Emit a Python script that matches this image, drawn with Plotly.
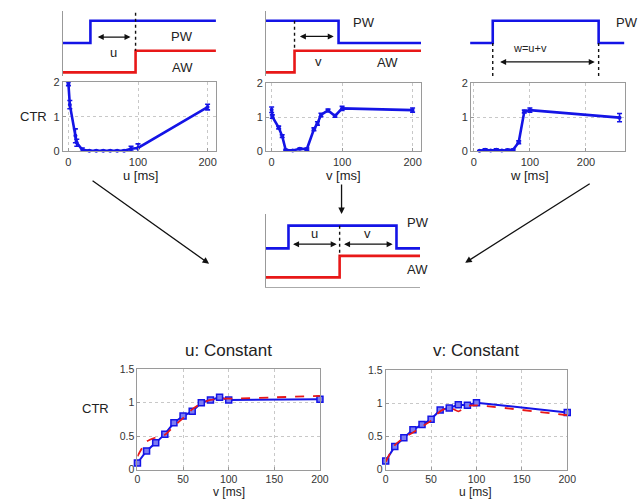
import plotly.graph_objects as go

W, H = 642, 504

# ---------------- data ----------------
# top-left: CTR vs u
u_ms = [0, 2, 10, 12, 20, 30, 40, 50, 60, 70, 80, 90, 100, 200]
ctr_u = [1.95, 1.35, 0.45, 0.25, 0.05, 0.02, 0.02, 0.02, 0.02, 0.02, 0.02, 0.08, 0.1, 1.28]
err_u = [0.05, 0.12, 0.2, 0.1, 0.05, 0.01, 0.01, 0.01, 0.01, 0.01, 0.01, 0.07, 0.12, 0.08]
# top-middle: CTR vs v
v_ms = [0, 1, 10, 15, 20, 30, 40, 50, 60, 65, 70, 80, 90, 100, 200]
ctr_v = [1.22, 1.02, 0.7, 0.45, 0.04, 0.03, 0.08, 0.07, 0.65, 0.82, 1.07, 1.2, 1.04, 1.26, 1.21]
err_v = [0.08, 0.05, 0.04, 0.04, 0.02, 0.02, 0.02, 0.03, 0.04, 0.05, 0.05, 0.04, 0.04, 0.06, 0.06]
# top-right: CTR vs w
w_ms = [10, 20, 30, 40, 50, 60, 70, 80, 90, 100, 260]
ctr_w = [0.02, 0.05, 0.03, 0.05, 0.03, 0.04, 0.05, 0.27, 1.17, 1.21, 0.99]
err_w = [0.01, 0.03, 0.01, 0.03, 0.01, 0.02, 0.02, 0.04, 0.04, 0.06, 0.12]
# bottom panels
ms_grid = [0, 10, 20, 30, 40, 50, 60, 70, 80, 90, 100, 200]
uconst_meas = [0.1, 0.28, 0.4, 0.53, 0.7, 0.8, 0.87, 1.0, 1.04, 1.08, 1.04, 1.05]
uconst_model = [0.2, 0.42, 0.48, 0.52, 0.65, 0.77, 0.9, 0.99, 1.04, 1.06, 1.06, 1.1]
vconst_meas = [0.13, 0.35, 0.48, 0.6, 0.68, 0.76, 0.9, 0.93, 0.98, 0.97, 1.01, 0.86]
vconst_model = [0.12, 0.37, 0.48, 0.56, 0.65, 0.74, 0.88, 0.94, 0.88, 0.96, 0.97, 0.82]

# schematic waveforms (schematic time units 0-100, level units 0-10)
s1_pw_t = [0, 18, 18, 100]; s1_pw_y = [5.1, 5.1, 8.5, 8.5]
s1_aw_t = [0, 47.5, 47.5, 100]; s1_aw_y = [0.6, 0.6, 3.9, 3.9]
s2_pw_t = [0, 46.8, 46.8, 100]; s2_pw_y = [8.5, 8.5, 5.1, 5.1]
s2_aw_t = [0, 18.4, 18.4, 100]; s2_aw_y = [0.6, 0.6, 3.9, 3.9]
s3_pw_t = [0, 13.9, 13.9, 78.9, 78.9, 94.6]; s3_pw_y = [5.1, 5.1, 8.5, 8.5, 5.1, 5.1]
s4_pw_t = [0, 14.6, 14.6, 84.7, 84.7, 100]; s4_pw_y = [5.3, 5.3, 8.4, 8.4, 5.3, 5.3]
s4_aw_t = [0, 47.8, 47.8, 100]; s4_aw_y = [1.33, 1.33, 4.27, 4.27]

BLUE = "#1414e6"
RED = "#e81818"
FONT = "Liberation Sans, Arial, sans-serif"
TXT = "#222222"

fig = go.Figure()
layout = dict(width=W, height=H, margin=dict(l=0, r=0, t=0, b=0),
              paper_bgcolor="white", plot_bgcolor="white", showlegend=False,
              font=dict(family=FONT, color=TXT, size=11))


def fx(px):
    return px / W


def fy(py):
    return 1 - py / H


def add_axes(i, x0, x1, y0, y1, xr, yr, plot=True, xt=None, yt=None, left=False,
             bottom=False, tsize=11):
    xa = dict(domain=[fx(x0), fx(x1)], range=xr, anchor="y%d" % i, zeroline=False,
              fixedrange=True)
    ya = dict(domain=[fy(y1), fy(y0)], range=yr, anchor="x%d" % i, zeroline=False,
              fixedrange=True)
    if plot:
        common = dict(showline=True, mirror=True, linecolor="#9a9a9a", linewidth=1,
                      showgrid=True, gridcolor="#c8c8c8", griddash="dot", gridwidth=1,
                      ticks="inside", ticklen=3, tickcolor="#9a9a9a",
                      tickfont=dict(size=tsize, color="#333"))
        xa.update(common, tickvals=xt, ticktext=[str(v) for v in xt])
        ya.update(common, tickvals=yt, ticktext=[("%g" % v) for v in yt])
    else:
        xa.update(visible=bottom, showline=bottom, showticklabels=False, showgrid=False,
                  linecolor="#aaaaaa", ticks="")
        ya.update(visible=left, showline=left, showticklabels=False, showgrid=False,
                  linecolor="#999999", ticks="")
    layout["xaxis%d" % i] = xa
    layout["yaxis%d" % i] = ya


# data axes
add_axes(1, 61, 217, 78, 149, [-8, 212], [0, 2], xt=[0, 100, 200], yt=[0, 1, 2])
add_axes(2, 268, 426, 79, 149, [-8, 212], [0, 2], xt=[0, 100, 200], yt=[0, 1, 2])
add_axes(3, 477, 634, 79, 149, [-5, 270], [0, 2], xt=[0, 100, 200], yt=[0, 1, 2])
add_axes(4, 137, 323, 372, 475, [0, 200], [0, 1.5], xt=[0, 50, 100, 150, 200],
         yt=[0, 0.5, 1, 1.5], tsize=10.5)
add_axes(5, 390, 575, 373, 475, [0, 200], [0, 1.5], xt=[0, 50, 100, 150, 200],
         yt=[0, 0.5, 1, 1.5], tsize=10.5)
# schematic axes
add_axes(6, 61, 217, 5, 72, [0, 100], [0, 10], plot=False, left=True)
add_axes(7, 268, 426, 5, 72, [0, 100], [0, 10], plot=False, left=True)
add_axes(8, 476, 642, 5, 72, [0, 100], [0, 10], plot=False)
add_axes(9, 268, 425, 213, 288, [0, 100], [0, 10], plot=False, left=True, bottom=True)


def ax(i):
    return ("x" if i == 1 else "x%d" % i), ("y" if i == 1 else "y%d" % i)


def ctr_trace(i, x, y, e):
    xa, ya = ax(i)
    fig.add_trace(go.Scatter(x=x, y=y, xaxis=xa, yaxis=ya, mode="lines+markers",
                             line=dict(color=BLUE, width=2.6),
                             marker=dict(size=4, color=BLUE),
                             error_y=dict(type="data", array=e, color=BLUE, thickness=1.6, width=2.5),
                             cliponaxis=False))


ctr_trace(1, u_ms, ctr_u, err_u)
ctr_trace(2, v_ms, ctr_v, err_v)
ctr_trace(3, w_ms, ctr_w, err_w)

for i, meas, model in [(4, uconst_meas, uconst_model), (5, vconst_meas, vconst_model)]:
    xa, ya = ax(i)
    fig.add_trace(go.Scatter(x=ms_grid, y=meas, xaxis=xa, yaxis=ya, mode="lines+markers",
                             line=dict(color=BLUE, width=2),
                             marker=dict(symbol="square", size=6, color="#7c7cf2",
                                         line=dict(color=BLUE, width=1.5)),
                             cliponaxis=False))
    fig.add_trace(go.Scatter(x=ms_grid, y=model, xaxis=xa, yaxis=ya, mode="lines",
                             line=dict(color=RED, width=1.8, dash="dash", shape="spline",
                                       smoothing=0.6),
                             cliponaxis=False))


def wave(i, t, y, color):
    xa, ya = ax(i)
    fig.add_trace(go.Scatter(x=t, y=y, xaxis=xa, yaxis=ya, mode="lines",
                             line=dict(color=color, width=2.6), cliponaxis=False))


def vdash(i, xv, ytop, ybot):
    xa, ya = ax(i)
    fig.add_trace(go.Scatter(x=[xv, xv], y=[ytop, ybot], xaxis=xa, yaxis=ya, mode="lines",
                             line=dict(color="#111", width=1.4, dash="dot"), cliponaxis=False))


wave(6, s1_pw_t, s1_pw_y, BLUE); wave(6, s1_aw_t, s1_aw_y, RED); vdash(6, 47.5, 9.7, 3.9)
wave(7, s2_pw_t, s2_pw_y, BLUE); wave(7, s2_aw_t, s2_aw_y, RED); vdash(7, 18.4, 8.5, 3.9)
wave(8, s3_pw_t, s3_pw_y, BLUE); vdash(8, 13.9, 5.1, 0.0); vdash(8, 78.9, 5.1, 0.0)
wave(9, s4_pw_t, s4_pw_y, BLUE); wave(9, s4_aw_t, s4_aw_y, RED); vdash(9, 47.8, 8.4, 4.27)

ann = []


def dbl_arrow(i, x0, x1, yv):
    xa, ya = ax(i)
    ann.append(dict(x=x1, y=yv, ax=x0, ay=yv, xref=xa, yref=ya, axref=xa, ayref=ya,
                    showarrow=True, arrowhead=2, arrowsize=1, arrowwidth=1.2,
                    arrowcolor="#111", arrowside="end+start", text=""))


def label(i, x, y, text, size=13, xanchor="center"):
    xa, ya = ax(i)
    ann.append(dict(x=x, y=y, xref=xa, yref=ya, text=text, showarrow=False,
                    xanchor=xanchor, yanchor="middle",
                    font=dict(size=size, color=TXT, family=FONT)))


dbl_arrow(6, 21.8, 44.2, 6.0)
label(6, 33, 3.7, "u"); label(6, 78, 6.1, "PW"); label(6, 78, 1.3, "AW")
dbl_arrow(7, 20.9, 43.7, 6.1)
label(7, 34, 2.2, "v"); label(7, 63, 8.2, "PW"); label(7, 78.5, 2.1, "AW")
dbl_arrow(8, 17.5, 76.5, 2.2)
label(8, 36.7, 4.3, "w=u+v", size=11); label(8, 88.3, 8.2, "PW", xanchor="left")
dbl_arrow(9, 16.6, 45.9, 5.87); dbl_arrow(9, 49.7, 82.2, 5.87)
label(9, 31.8, 7.3, "u"); label(9, 65.6, 7.3, "v")
label(9, 98.5, 8.8, "PW"); label(9, 98.5, 2.4, "AW")


def ptext(px, py, text, size=13):
    ann.append(dict(x=fx(px), y=fy(py), xref="paper", yref="paper", text=text,
                    xanchor="center", yanchor="middle",
                    showarrow=False, font=dict(size=size, color=TXT, family=FONT)))


ptext(31, 113, "CTR", 13)
ptext(140, 174, "u [ms]", 13)
ptext(347, 174, "v [ms]", 13)
ptext(537, 174, "w [ms]", 13)
ptext(230, 353, "u: Constant", 17)
ptext(482, 353, "v: Constant", 17)
ptext(94, 412, "CTR", 13)
ptext(230, 497.5, "v [ms]", 12)
ptext(482, 497.5, "u [ms]", 12)


def big_arrow(x0, y0, x1, y1):
    ann.append(dict(x=fx(x1), y=fy(y1), xref="paper", yref="paper",
                    ax=x0 - x1, ay=y0 - y1, axref="pixel", ayref="pixel",
                    showarrow=True, arrowhead=2, arrowsize=1, arrowwidth=1.3,
                    arrowcolor="#111", text=""))


big_arrow(92, 180, 210, 264)
big_arrow(345, 182, 345, 213)
big_arrow(597, 183, 471, 263)

layout["annotations"] = ann
fig.update_layout(**layout)
fig.write_html("out.html", config={"displayModeBar": False},
               post_script="document.body.style.margin='0px';document.body.style.overflow='hidden';")
